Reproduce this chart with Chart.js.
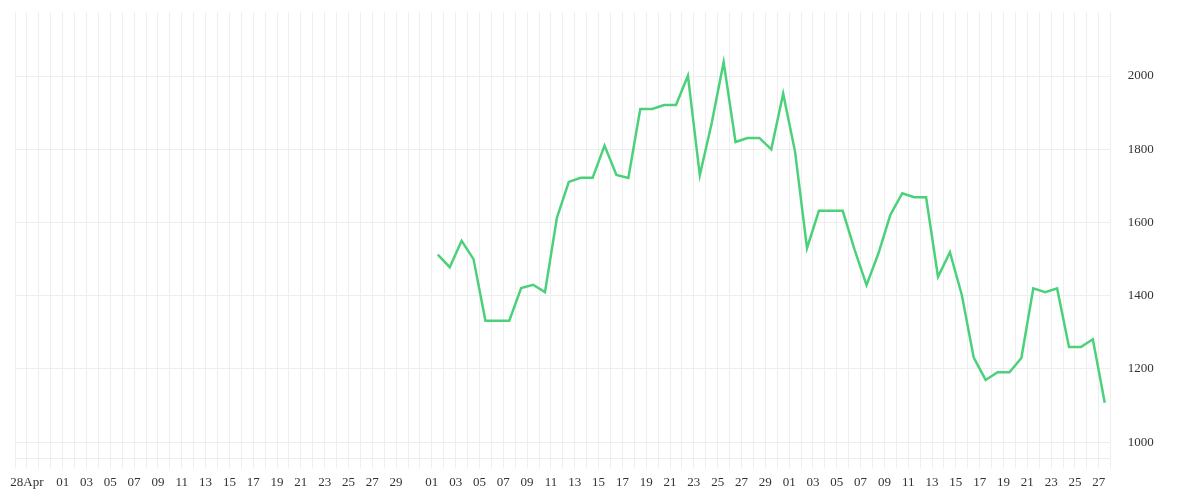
<!DOCTYPE html>
<html>
<head>
<meta charset="utf-8">
<script src="https://cdn.jsdelivr.net/npm/chart.js@4/dist/chart.umd.min.js"></script>
<style>
  html, body { margin: 0; padding: 0; background: #fff; }
  #wrap { width: 1200px; height: 500px; position: relative; }
</style>
</head>
<body>
<div id="wrap"><canvas id="chart"></canvas></div>
<script>
// Daily series, 27 Apr .. 27 Jul; values only exist from 1 Jun onwards.
const START = { year: 2024, month: 3, day: 27 };   // 27 Apr (month is 0-based)
const DAY_COUNT = 92;
const FIRST_VALUE_INDEX = 35;                       // 1 Jun
const Y_MIN = 956, Y_MAX = 2175;
const Y_TICKS = [1000, 1200, 1400, 1600, 1800, 2000];

// 1 Jun .. 27 Jul
const VALUES = [
  1512, 1478, 1550, 1500, 1332, 1332, 1332, 1421, 1430, 1410,
  1613, 1711, 1722, 1722, 1810, 1730, 1722, 1910, 1910, 1921,
  1921, 2001, 1729, 1872, 2038, 1820, 1831, 1831, 1800, 1952,
  1793, 1530, 1632, 1632, 1632, 1525, 1429, 1516, 1621, 1680,
  1669, 1669, 1452, 1519, 1402, 1231, 1170, 1191, 1191, 1230,
  1420, 1410, 1420, 1260, 1260, 1281, 1108
];

const MONTHS = ['Jan', 'Feb', 'Mar', 'Apr', 'May', 'Jun', 'Jul', 'Aug', 'Sep', 'Oct', 'Nov', 'Dec'];

const DAYS = [];
for (let i = 0; i < DAY_COUNT; i++) {
  const d = new Date(START.year, START.month, START.day + i);
  DAYS.push({ m: d.getMonth(), d: d.getDate() });
}
const CATEGORIES = DAYS.map(x => x.d + MONTHS[x.m]);

function tickText(i) {
  const x = DAYS[i];
  if (!x) return '';
  if (x.m === 3) return x.d === 28 ? '28Apr' : '';
  if (x.d % 2 === 1 && x.d !== 31) return String(x.d).padStart(2, '0');
  return '';
}

const series = new Array(FIRST_VALUE_INDEX).fill(null).concat(VALUES);

const GRID = '#eeeeee';
const FONT = { family: "'Liberation Serif', 'Times New Roman', serif", size: 13 };
const BAND = (1110.7 - 15) / DAY_COUNT;

new Chart(document.getElementById('chart'), {
  type: 'line',
  data: {
    labels: CATEGORIES,
    datasets: [{
      data: series,
      borderColor: '#4cd17b',
      borderWidth: 2.5,
      pointRadius: 0,
      tension: 0,
      fill: false
    }]
  },
  options: {
    responsive: true, maintainAspectRatio: false, animation: false,
    layout: { padding: { left: 15, top: 12, right: 0, bottom: 0 } },
    plugins: { legend: { display: false }, tooltip: { enabled: false } },
    scales: {
      x: {
        type: 'category',
        offset: true,
        grid: { color: GRID, offset: true, tickLength: 10, drawTicks: true },
        border: { color: GRID },
        ticks: {
          autoSkip: false, maxRotation: 0, minRotation: 0,
          labelOffset: -BAND / 2, padding: 6,
          color: '#333', font: FONT,
          callback: (v, i) => tickText(i)
        },
        afterFit: s => { s.height = 500 - 458.3; s.paddingLeft = 0; s.paddingRight = 0; }
      },
      y: {
        position: 'right',
        min: Y_MIN, max: Y_MAX,
        grid: { color: GRID, drawTicks: false },
        border: { color: GRID },
        ticks: {
          padding: 17, color: '#333', font: FONT,
          callback: v => String(v)
        },
        afterBuildTicks: s => { s.ticks = Y_TICKS.map(v => ({ value: v })); },
        afterFit: s => { s.width = 1200 - 1110.7; s.paddingTop = 0; s.paddingBottom = 0; }
      }
    }
  }
});
</script>
</body>
</html>
